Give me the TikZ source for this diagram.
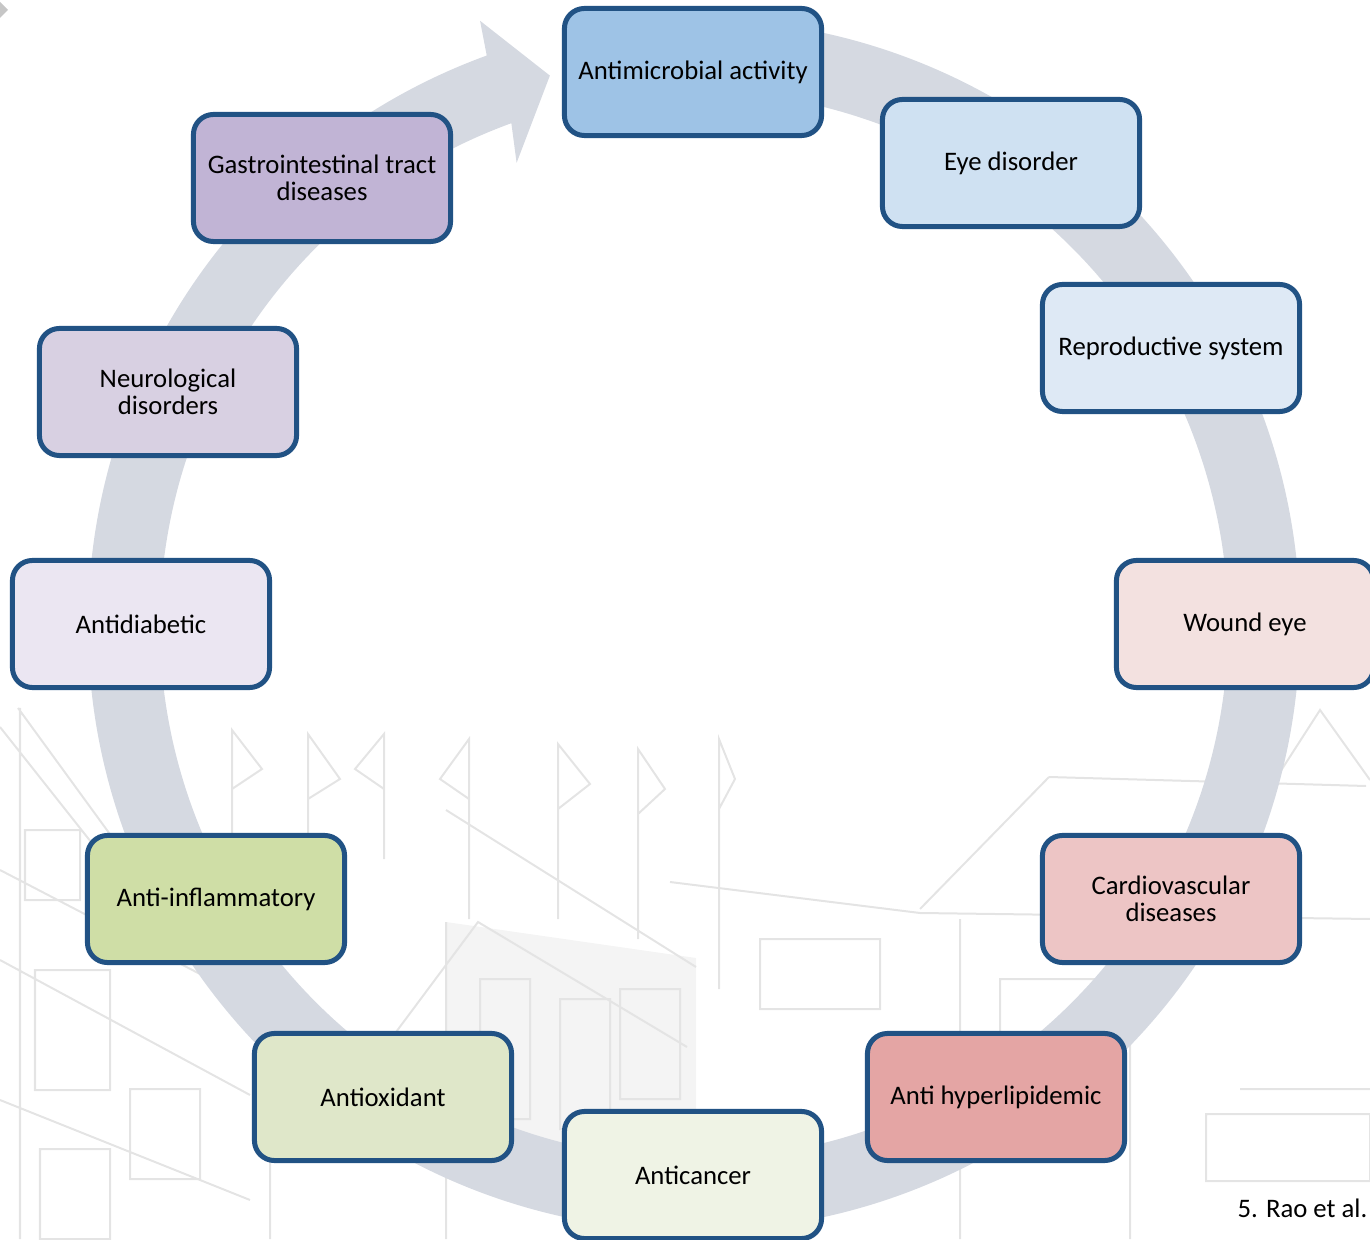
\documentclass[tikz,border=0pt]{standalone}
\usepackage{fontspec}
\setmainfont{Carlito}
\usetikzlibrary{positioning}
\definecolor{ringgray}{RGB}{213,217,225}
\definecolor{boxline}{RGB}{33,82,132}
\definecolor{sketchgray}{RGB}{228,228,228}
\definecolor{fillMicro}{RGB}{158,195,230}
\definecolor{fillEye}{RGB}{207,225,242}
\definecolor{fillRepro}{RGB}{222,233,245}
\definecolor{fillWound}{RGB}{243,225,224}
\definecolor{fillCardio}{RGB}{237,197,197}
\definecolor{fillLipid}{RGB}{228,165,164}
\definecolor{fillCancer}{RGB}{239,243,229}
\definecolor{fillOxid}{RGB}{223,231,201}
\definecolor{fillInflam}{RGB}{207,222,166}
\definecolor{fillDiab}{RGB}{235,230,242}
\definecolor{fillNeuro}{RGB}{216,208,226}
\definecolor{fillGastro}{RGB}{193,180,213}

\begin{document}
\begin{tikzpicture}[x=0.01cm, y=0.01cm,
boxnode/.style={rectangle, rounded corners=0.2cm, draw=boxline, line width=0.05cm, minimum width=2.57cm, minimum height=1.27cm, align=center, font=\fontsize{7.6}{7.6}\selectfont},
sketch/.style={draw=sketchgray, line width=0.02cm}
]
    \useasboundingbox (0,0) rectangle (1370,1239);
    \fill[gray!45] (0,1237) -- (8,1229) -- (0,1221) -- cycle;

    % faint building sketch in the background
    \fill[gray!9] (446,317) -- (696,281) -- (696,80) -- (446,103) -- cycle;
    \draw[sketch] (18,531) -- (112,402) (0,512) -- (95,392) (20,531) -- (20,0)
        (0,369) -- (250,239) (0,279) -- (250,144) (0,139) -- (250,39)
        (25,339) rectangle (80,409) (35,149) rectangle (110,269) (130,60) rectangle (200,150)
        (40,0) rectangle (110,90) (270,230) -- (270,0) (335,125) -- (478,317) -- (687,192)
        (446,429) -- (696,272) (446,317) -- (446,0) (480,120) rectangle (530,260)
        (560,110) rectangle (610,240) (620,140) rectangle (680,250);
    \draw[sketch] (232,369) -- (232,509) -- (262,470) -- (232,450)
        (308,369) -- (308,505) -- (340,460) -- (308,440)
        (384,380) -- (384,505) -- (355,470) -- (384,450)
        (469,320) -- (469,500) -- (440,460) -- (469,440)
        (558,320) -- (558,495) -- (590,455) -- (558,430)
        (638,300) -- (638,490) -- (665,450) -- (638,425)
        (719,250) -- (719,500) -- (735,460) -- (719,430);
    \draw[sketch] (1049,462) -- (1366,453) (1049,462) -- (920,330)
        (670,357) -- (920,326) -- (1370,320) (1264,442) -- (1320,529) -- (1370,459)
        (1206,58) rectangle (1370,125) (1130,0) -- (1130,326) (960,0) -- (960,320)
        (1000,140) rectangle (1110,260) (1240,150) -- (1370,150) (760,230) rectangle (880,300);

    \begin{scope}[shift={(694,614)}]
        \fill[ringgray] (88:606) arc[start angle=88, end angle=-250, radius=606]
            -- (109.5:641) -- (104.7:568) -- (111:495) -- (110:534)
            arc[start angle=-250, end angle=88, radius=534] -- cycle;
    \end{scope}

    \node[boxnode, fill=fillMicro]  (nodeMicro)  at (693,1167) {Antimicrobial activity};
    \node[boxnode, fill=fillEye]    (nodeEye)    at (1011,1076) {Eye disorder};
    \node[boxnode, fill=fillRepro]  (nodeRepro)  at (1171,891) {Reproductive system};
    \node[boxnode, fill=fillWound]  (nodeWound)  at (1245,615) {Wound eye};
    \node[boxnode, fill=fillCardio] (nodeCardio) at (1171,340) {Cardiovascular\\diseases};
    \node[boxnode, fill=fillLipid]  (nodeLipid)  at (996,142) {Anti hyperlipidemic};
    \node[boxnode, fill=fillCancer] (nodeCancer) at (693,64) {Anticancer};
    \node[boxnode, fill=fillOxid]   (nodeOxid)   at (383,142) {Antioxidant};
    \node[boxnode, fill=fillInflam] (nodeInflam) at (216,340) {Anti-inflammatory};
    \node[boxnode, fill=fillDiab]   (nodeDiab)   at (141,615) {Antidiabetic};
    \node[boxnode, fill=fillNeuro]  (nodeNeuro)  at (168,847) {Neurological\\disorders};
    \node[boxnode, fill=fillGastro] (nodeGastro) at (322,1061) {Gastrointestinal tract\\diseases};

    \node[anchor=east, inner sep=0pt, font=\fontsize{7.6}{7.6}\selectfont] (nodeRef) at (1368,31) {5. Rao et al.};
\end{tikzpicture}
\end{document}
